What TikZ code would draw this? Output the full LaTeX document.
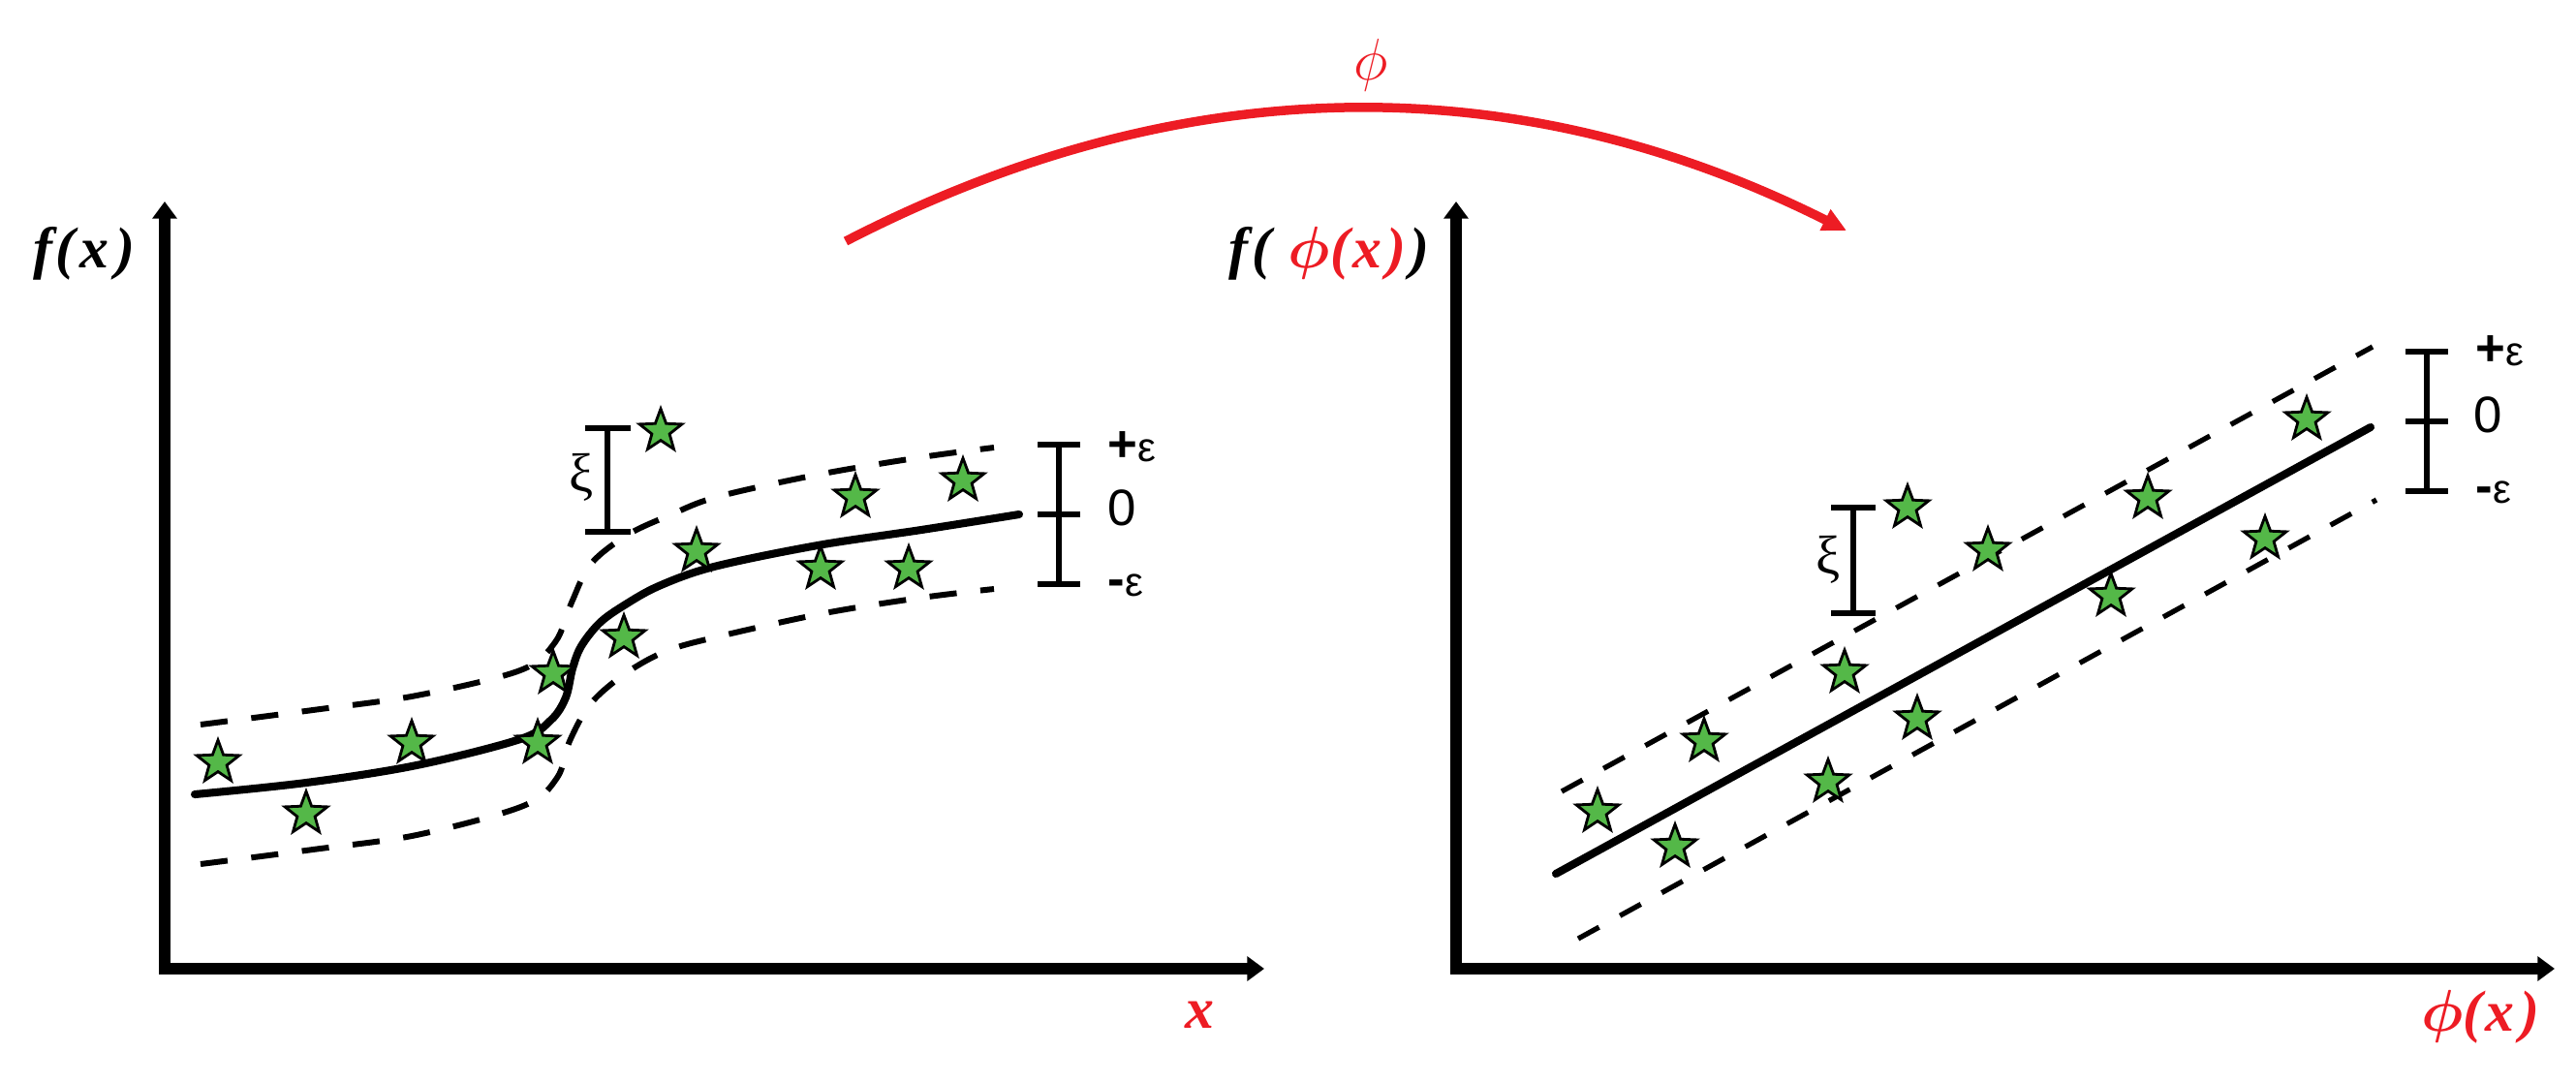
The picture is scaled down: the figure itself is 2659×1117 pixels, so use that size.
\documentclass[tikz,border=0pt]{standalone}
\usepackage{bm}
\usepackage{fontspec}
\setmainfont{Liberation Serif}
\newfontfamily\sansf{Liberation Sans}
\usetikzlibrary{shapes.geometric,arrows.meta}
\definecolor{phired}{RGB}{237,28,36}
\definecolor{stargreen}{RGB}{84,184,72}
\begin{document}
\begin{tikzpicture}[x=0.01cm,y=-0.01cm,
  axis/.style={line width=3.6pt, line cap=rect, -{Triangle[length=5pt,width=7pt]}},
  fitline/.style={line width=2.3pt, line cap=round},
  marginL/.style={line width=1.7pt, dash pattern=on 8pt off 7pt},
  marginR/.style={line width=1.5pt, dash pattern=on 7pt off 7pt},
  bar/.style={line width=1.8pt},
  datum/.style={star, star points=5, star point ratio=2.4, minimum size=0.46cm, inner sep=0pt,
    fill=stargreen, draw=black, line width=0.8pt},
  axlab/.style={font=\fontsize{17}{17}\selectfont\bfseries\itshape, inner sep=0pt},
  eps/.style={font=\sansf\fontsize{15}{15}\selectfont, inner sep=0pt, anchor=west},
  xilab/.style={font=\fontsize{16}{16}\selectfont, inner sep=0pt},
  phiarrow/.style={phired, line width=2.7pt, -{Triangle[length=7pt,width=6.5pt]}}]
\useasboundingbox (0,0) rectangle (2659,1117);

% ---------- left axes ----------
\coordinate (oL) at (170,1000);
\coordinate (yL) at (170,208);
\coordinate (xL) at (1305,1000);
\draw[axis] (oL) -- (yL);
\draw[axis] (oL) -- (xL);
\node[axlab] (fxL) at (87,262) {f\kern1pt(\kern1.5pt x\kern2pt)};
\node[axlab, text=phired] (xlabL) at (1238,1048) {x};

% ---------- right axes ----------
\coordinate (oR) at (1503,1000);
\coordinate (yR) at (1503,208);
\coordinate (xR) at (2637,1000);
\draw[axis] (oR) -- (yR);
\draw[axis] (oR) -- (xR);
\node[axlab] (fxR) at (1372,262) {f\kern1pt(\kern5pt\textcolor{phired}{$\bm{\phi}$(\kern1pt x\kern1.5pt)}\kern1pt)};
\node[axlab, text=phired] (xlabR) at (2560,1050) {$\bm{\phi}$(\kern1pt x\kern1.5pt)};

% ---------- mapping arrow ----------
\coordinate (arcS) at (873,249);
\coordinate (arcE) at (1906,238);
\draw[phiarrow] (arcS) .. controls (1220,70) and (1565,67) .. (arcE);
\node[text=phired, font=\fontsize{16}{16}\selectfont, inner sep=0pt] (philab) at (1415,67) {$\phi$};

% ---------- left curves ----------
\draw[fitline] plot[smooth, tension=0.55] coordinates {
  (201,820) (316,808) (430,790) (537,763) (569,743) (584,720) (591,690) (600,667)
  (619,643) (644,625) (680,605) (737,585) (844,563) (951,547) (1052,531)};
\draw[marginL] plot[smooth, tension=0.55] coordinates {
  (207,748) (323,733) (430,718) (537,692) (573,663) (590,622) (610,582)
  (648,552) (691,532) (740,513) (844,490) (951,472) (1026,462)};
\draw[marginL] plot[smooth, tension=0.55] coordinates {
  (207,892) (323,877) (430,862) (540,832) (575,803) (588,765) (610,726)
  (646,695) (688,672) (742,657) (851,633) (951,617) (1026,608)};

% ---------- left epsilon bar ----------
\draw[bar] (1071,459) -- (1115,459);
\draw[bar] (1071,531) -- (1115,531);
\draw[bar] (1071,603) -- (1115,603);
\draw[bar] (1093,459) -- (1093,603);
\node[eps] (pL) at (1143,461) {\bfseries+\fontsize{12}{12}\selectfont\mdseries ε};
\node[eps] (zL) at (1143,524) {0};
\node[eps] (mL) at (1143,604) {\bfseries-\fontsize{12}{12}\selectfont\mdseries ε};

% ---------- left xi bar ----------
\draw[bar] (604,442) -- (651,442);
\draw[bar] (604,549) -- (651,549);
\draw[bar] (627,442) -- (627,549);
\node[xilab] (xiL) at (600,493) {ξ};

% ---------- left data ----------
\foreach \p [count=\i] in {(225,787),(316,840),(425,767),(555,767),(571,695),(644,658),
  (682,445),(719,569),(847,587),(883,513),(938,587),(994,496)}
  \node[datum] (sL\i) at \p {};

% ---------- right lines ----------
\coordinate (fa) at (1606,902);
\coordinate (fb) at (2447,441);
\draw[fitline] (fa) -- (fb);
\coordinate (ua) at (1612,817);
\coordinate (ub) at (2449,358);
\draw[marginR] (ua) -- (ub);
\coordinate (la) at (1629,969);
\coordinate (lb) at (2453,516);
\draw[marginR] (la) -- (lb);

% ---------- right epsilon bar ----------
\draw[bar] (2483,363) -- (2527,363);
\draw[bar] (2483,435) -- (2527,435);
\draw[bar] (2483,507) -- (2527,507);
\draw[bar] (2505,363) -- (2505,507);
\node[eps] (pR) at (2555,362) {\bfseries+\fontsize{12}{12}\selectfont\mdseries ε};
\node[eps] (zR) at (2553,428) {0};
\node[eps] (mR) at (2555,508) {\bfseries-\fontsize{12}{12}\selectfont\mdseries ε};

% ---------- right xi bar ----------
\draw[bar] (1890,524) -- (1936,524);
\draw[bar] (1890,633) -- (1936,633);
\draw[bar] (1913,524) -- (1913,633);
\node[xilab] (xiR) at (1887,578) {ξ};

% ---------- right data ----------
\foreach \p [count=\i] in {(1649,838),(1729,874),(1759,765),(1887,807),(1904,694),(1979,742),
  (1969,524),(2052,568),(2179,615),(2217,514),(2338,556),(2381,433)}
  \node[datum] (sR\i) at \p {};
\end{tikzpicture}
\end{document}
